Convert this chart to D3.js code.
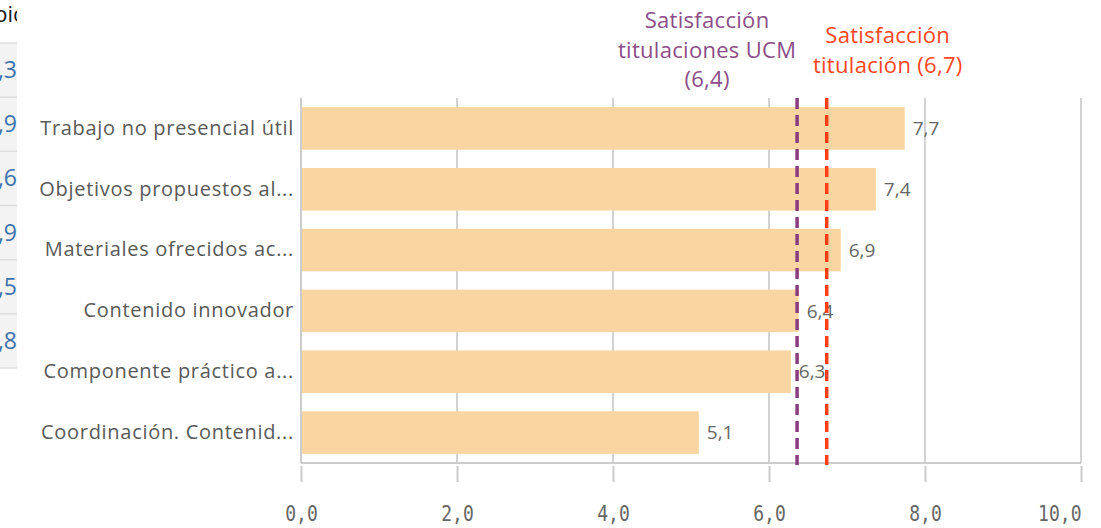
<!DOCTYPE html>
<html>
<head>
<meta charset="utf-8">
<script src="https://cdn.jsdelivr.net/npm/d3@7"></script>
<style>
  html, body { margin: 0; padding: 0; background: #fff; }
  svg { display: block; }
</style>
</head>
<body>
<svg id="chart" width="1101" height="528"></svg>
<script>
// ---- data ----
const categories = [
  "Trabajo no presencial útil",
  "Objetivos propuestos al...",
  "Materiales ofrecidos ac...",
  "Contenido innovador",
  "Componente práctico a...",
  "Coordinación. Contenid..."
];
const values = [7.74, 7.37, 6.92, 6.38, 6.28, 5.10];
const valueLabels = ["7,7", "7,4", "6,9", "6,4", "6,3", "5,1"];
const xTicks = [0, 2, 4, 6, 8, 10];
const refValues = [6.36, 6.74];
const refLabels = [
  ["Satisfacción", "titulaciones UCM", "(6,4)"],
  ["Satisfacción", "titulación (6,7)"]
];
const refColors = ["#8a3c80", "#ff3d17"];
const refTextColors = ["#8c4d88", "#ff4522"];
// background table fragment (partially hidden)
const tableHeader = "pio";
const tableValues = [",3", ",9", ",6", ",9", ",5", ",8"];

const svg = d3.select("#chart");
const W = 1101, H = 528;
const margin = { left: 301, right: 20, top: 98, bottom: 65 };

// ---- background table strip ----
const strip = svg.append("g");
strip.append("text").attr("x", -6).attr("y", 22)
  .attr("font-family", "Open Sans, sans-serif").attr("font-size", 22)
  .attr("fill", "#1a1a1a").text(tableHeader);
strip.append("rect").attr("x", 0).attr("y", 43).attr("width", 17).attr("height", 325).attr("fill", "#f3f3f3");
const rowY = d3.scaleBand().domain(d3.range(tableValues.length)).range([43, 368]);
strip.selectAll("line.row").data(d3.range(tableValues.length + 1)).join("line")
  .attr("x1", 0).attr("x2", 17)
  .attr("y1", i => i < tableValues.length ? rowY(i) : 368)
  .attr("y2", i => i < tableValues.length ? rowY(i) : 368)
  .attr("stroke", "#dedede").attr("stroke-width", 1.5);
strip.selectAll("text.val").data(tableValues).join("text")
  .attr("x", 17).attr("y", (d, i) => rowY(i) + rowY.bandwidth() / 2 + 8)
  .attr("text-anchor", "end")
  .attr("font-family", "Open Sans, sans-serif").attr("font-size", 23)
  .attr("fill", "#3c72ad").text(d => d);

// white chart panel
svg.append("rect").attr("x", 17).attr("y", 0).attr("width", W - 17).attr("height", H).attr("fill", "#fff");

// ---- scales ----
const x = d3.scaleLinear().domain([0, 10]).range([margin.left, W - margin.right]);
const y = d3.scaleBand().domain(categories).range([margin.top, H - margin.bottom]).paddingInner(0.3).paddingOuter(0.15);
const plotBottom = H - margin.bottom;

// gridlines
svg.append("g").selectAll("line").data(xTicks).join("line")
  .attr("x1", d => x(d)).attr("x2", d => x(d))
  .attr("y1", margin.top).attr("y2", plotBottom)
  .attr("stroke", "#d2d2d2").attr("stroke-width", 2);

// bars
svg.append("g").selectAll("rect").data(values).join("rect")
  .attr("x", x(0)).attr("y", (d, i) => y(categories[i]))
  .attr("width", d => x(d) - x(0)).attr("height", y.bandwidth())
  .attr("fill", "#f9d6a1");

// axis lines
svg.append("line").attr("x1", x(0)).attr("x2", x(0)).attr("y1", margin.top).attr("y2", plotBottom)
  .attr("stroke", "#cccccc").attr("stroke-width", 2);
svg.append("line").attr("x1", x(0)).attr("x2", x(10)).attr("y1", plotBottom).attr("y2", plotBottom)
  .attr("stroke", "#cccccc").attr("stroke-width", 2);

// x axis
const xAxis = d3.axisBottom(x).tickValues(xTicks).tickSize(16).tickPadding(23)
  .tickFormat(d => d3.format(".1f")(d).replace(".", ","));
const gx = svg.append("g").attr("transform", `translate(0,${plotBottom + 3})`).call(xAxis);
gx.select(".domain").remove();
gx.selectAll(".tick line").attr("stroke", "#cccccc").attr("stroke-width", 2);
gx.selectAll(".tick text")
  .attr("font-family", "DejaVu Sans Mono, monospace").attr("font-size", 22)
  .attr("fill", "#666").attr("dy", "0.71em")
  .attr("text-anchor", d => d === 10 ? "end" : "middle")
  .attr("transform", "scale(0.82,1)");

// y axis labels
const yAxis = d3.axisLeft(y).tickSize(0).tickPadding(7);
const gy = svg.append("g").attr("transform", `translate(${x(0)},0)`).call(yAxis);
gy.select(".domain").remove();
gy.selectAll(".tick text")
  .attr("font-family", "Open Sans, sans-serif").attr("font-size", 20)
  .attr("letter-spacing", 0.7)
  .attr("fill", "#595959");

// value labels
svg.append("g").selectAll("text").data(values).join("text")
  .attr("x", d => x(d) + 8)
  .attr("y", (d, i) => y(categories[i]) + y.bandwidth() / 2)
  .attr("dy", "0.35em")
  .attr("font-family", "Open Sans, sans-serif").attr("font-size", 19)
  .attr("fill", "#666").text((d, i) => valueLabels[i]);

// reference lines
svg.append("g").selectAll("line").data(refValues).join("line")
  .attr("x1", d => x(d)).attr("x2", d => x(d))
  .attr("y1", margin.top).attr("y2", plotBottom + 2)
  .attr("stroke", (d, i) => refColors[i]).attr("stroke-width", 3.5)
  .attr("stroke-dasharray", "11,6");

// reference labels
const refOffsets = [-90, 61];
const refTop = [28, 43];
refLabels.forEach((lines, i) => {
  const t = svg.append("text")
    .attr("x", x(refValues[i]) + refOffsets[i]).attr("y", refTop[i])
    .attr("text-anchor", "middle")
    .attr("font-family", "Open Sans, sans-serif").attr("font-size", 22)
    .attr("letter-spacing", 0.3)
    .attr("fill", refTextColors[i]);
  lines.forEach((s, j) => {
    t.append("tspan").attr("x", x(refValues[i]) + refOffsets[i]).attr("dy", j === 0 ? 0 : 29.5).text(s);
  });
});
</script>
</body>
</html>
